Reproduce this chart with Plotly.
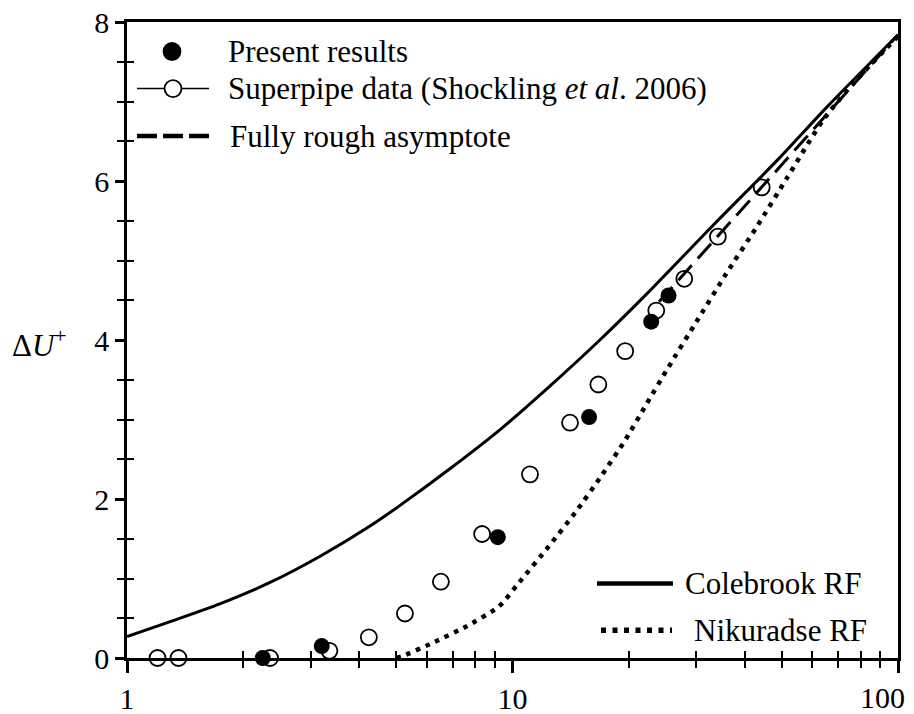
import plotly.graph_objects as go

# ---- data ----
present_x = [2.25, 3.2, 9.16, 15.8, 22.9, 25.4]
present_y = [0.0, 0.15, 1.52, 3.03, 4.23, 4.56]

superpipe_x = [1.20, 1.36, 2.35, 3.35, 4.24, 5.26, 6.52, 8.34, 11.1, 14.1, 16.7, 19.6, 23.6, 27.9, 34.1, 44.3]
superpipe_y = [0.0, 0.0, 0.0, 0.09, 0.26, 0.56, 0.96, 1.56, 2.31, 2.96, 3.44, 3.86, 4.37, 4.77, 5.30, 5.92]

asym_x = [24.0, 100.0]
asym_y = [4.48, 7.84]

colebrook_x = [1, 1.3, 1.74, 2.35, 3.17, 4.27, 5.11, 6.88, 9.27, 12.5, 16.85, 22.3, 33.1, 49.5, 65.1, 100]
colebrook_y = [0.27, 0.46, 0.68, 0.95, 1.28, 1.66, 1.92, 2.38, 2.87, 3.42, 4.00, 4.58, 5.44, 6.30, 6.92, 7.84]

nik_x = [5.0, 5.16, 6.27, 7.61, 9.23, 10.4, 12.4, 14.6, 17.0, 19.6, 22.3, 25.4, 30.0, 35.8, 43.1, 51.4, 64.0, 76.6, 100]
nik_y = [0.0, 0.02, 0.2, 0.4, 0.65, 0.95, 1.4, 1.84, 2.29, 2.74, 3.2, 3.66, 4.23, 4.83, 5.43, 6.03, 6.77, 7.23, 7.82]

x_major = [1, 10, 100]
x_major_text = ["1", "10", ""]
x_last_label = "100"
x_minor = [2, 3, 4, 5, 6, 7, 8, 9, 20, 30, 40, 50, 60, 70, 80, 90]
y_major = [0, 2, 4, 6, 8]
y_minor = [0.5, 1, 1.5, 2.5, 3, 3.5, 4.5, 5, 5.5, 6.5, 7, 7.5]

legend_top = ["Present results", "Superpipe data (Shockling <i>et al</i>. 2006)", "Fully rough asymptote"]
legend_bottom = ["Colebrook RF", "Nikuradse RF"]

FONT = "Liberation Serif"

# plot area geometry (pixels) used to place the hand-made legend keys
L, R, T, B = 127, 898, 22, 657.7
def fx(px):
    return (px - L) / (R - L)
def fy(py):
    return (B - py) / (B - T)

fig = go.Figure()

fig.add_trace(go.Scatter(x=colebrook_x, y=colebrook_y, mode="lines", name=legend_bottom[0],
                         line=dict(color="black", width=3, shape="spline", smoothing=0.7)))
fig.add_trace(go.Scatter(x=nik_x, y=nik_y, mode="lines", name=legend_bottom[1],
                         line=dict(color="black", width=4.5, dash="4.5px,6px", shape="spline", smoothing=0.6)))
fig.add_trace(go.Scatter(x=asym_x, y=asym_y, mode="lines", name=legend_top[2],
                         line=dict(color="black", width=3, dash="20px,9px")))
fig.add_trace(go.Scatter(x=superpipe_x, y=superpipe_y, mode="markers", name="Superpipe data",
                         marker=dict(symbol="circle-open", size=16, color="black", line=dict(width=1.8)),
                         cliponaxis=False))
fig.add_trace(go.Scatter(x=present_x, y=present_y, mode="markers", name=legend_top[0],
                         marker=dict(symbol="circle", size=16, color="black"),
                         cliponaxis=False))
# dummy trace so overlay axes are drawn
fig.add_trace(go.Scatter(x=[None], y=[None], xaxis="x2", yaxis="y2", showlegend=False, hoverinfo="skip"))

axis_common = dict(showgrid=False, zeroline=False, color="black", automargin=False)

# ---- hand-made legends ----
shapes = []
annotations = []
def circ(px, py, filled):
    shapes.append(dict(type="circle", xref="paper", yref="paper",
                       xsizemode="pixel", ysizemode="pixel",
                       xanchor=fx(px), yanchor=fy(py), x0=-8.5, x1=8.5, y0=-8.5, y1=8.5,
                       fillcolor="black" if filled else "white",
                       line=dict(color="black", width=1.8)))
def seg(px0, px1, py, width, dash="solid"):
    shapes.append(dict(type="line", xref="paper", yref="paper",
                       x0=fx(px0), x1=fx(px1), y0=fy(py), y1=fy(py),
                       line=dict(color="black", width=width, dash=dash)))
def label(text, px, py, size=31):
    annotations.append(dict(text=text, xref="paper", yref="paper", x=fx(px), y=fy(py),
                            xanchor="left", yanchor="middle", showarrow=False,
                            font=dict(size=size, family=FONT, color="black")))

rows_top = [51.5, 88.5, 136]
circ(172, rows_top[0], True)
label(legend_top[0], 226, rows_top[0])
seg(137, 209, rows_top[1], 1.5)
circ(173, rows_top[1], False)
label(legend_top[1], 226, rows_top[1])
seg(137, 211, rows_top[2], 4.5, "20px,6px")
label(legend_top[2], 228, rows_top[2])

seg(597, 673, 583.3, 4.5)
label(legend_bottom[0], 683, 583.3)
seg(601, 672, 630, 5.5, "5px,6.5px")
label(legend_bottom[1], 692, 630)

annotations.append(dict(text="Δ<i>U</i><sup>+</sup>", xref="paper", yref="paper", x=fx(39), y=fy(343),
                        xanchor="center", yanchor="middle", showarrow=False,
                        font=dict(size=31, family=FONT, color="black")))
# last x tick label, nudged left so it stays inside the picture
annotations.append(dict(text=x_last_label, xref="x", yref="paper", x=2, y=fy(697),
                        xanchor="right", yanchor="middle", xshift=9, showarrow=False,
                        font=dict(size=30, family=FONT, color="black")))

fig.update_layout(
    width=914, height=714,
    margin=dict(l=127, r=16, t=22, b=56, autoexpand=False),
    plot_bgcolor="white", paper_bgcolor="white",
    showlegend=False,
    font=dict(family=FONT, color="black", size=26),
    xaxis=dict(type="log", range=[0, 2], showline=True, linewidth=2.5, linecolor="black", mirror=True,
               ticks="outside", ticklen=12, tickwidth=2.5, tickcolor="black",
               tickvals=x_major, ticktext=x_major_text,
               tickfont=dict(size=30, family=FONT),
               minor=dict(tickvals=x_minor, ticks="outside", ticklen=7, tickwidth=2, tickcolor="black", showgrid=False),
               **axis_common),
    yaxis=dict(range=[0, 8], showline=True, linewidth=2.5, linecolor="black", mirror=True,
               ticks="outside", ticklen=9, tickwidth=2.5, tickcolor="black",
               tickvals=y_major, ticktext=[str(v) for v in y_major],
               tickfont=dict(size=30, family=FONT),
               minor=dict(tickvals=y_minor, ticks="outside", ticklen=7, tickwidth=2, tickcolor="black", showgrid=False),
               **axis_common),
    xaxis2=dict(type="log", range=[0, 2], overlaying="x", anchor="y", side="bottom",
                ticks="inside", ticklen=7, tickwidth=2, tickcolor="black",
                tickvals=x_minor, showticklabels=False, showline=False, **axis_common),
    yaxis2=dict(range=[0, 8], overlaying="y", anchor="x", side="left",
                ticks="inside", ticklen=7, tickwidth=2, tickcolor="black",
                tickvals=y_minor, showticklabels=False, showline=False, **axis_common),
    shapes=shapes,
    annotations=annotations,
)

fig.write_html("out.html")
